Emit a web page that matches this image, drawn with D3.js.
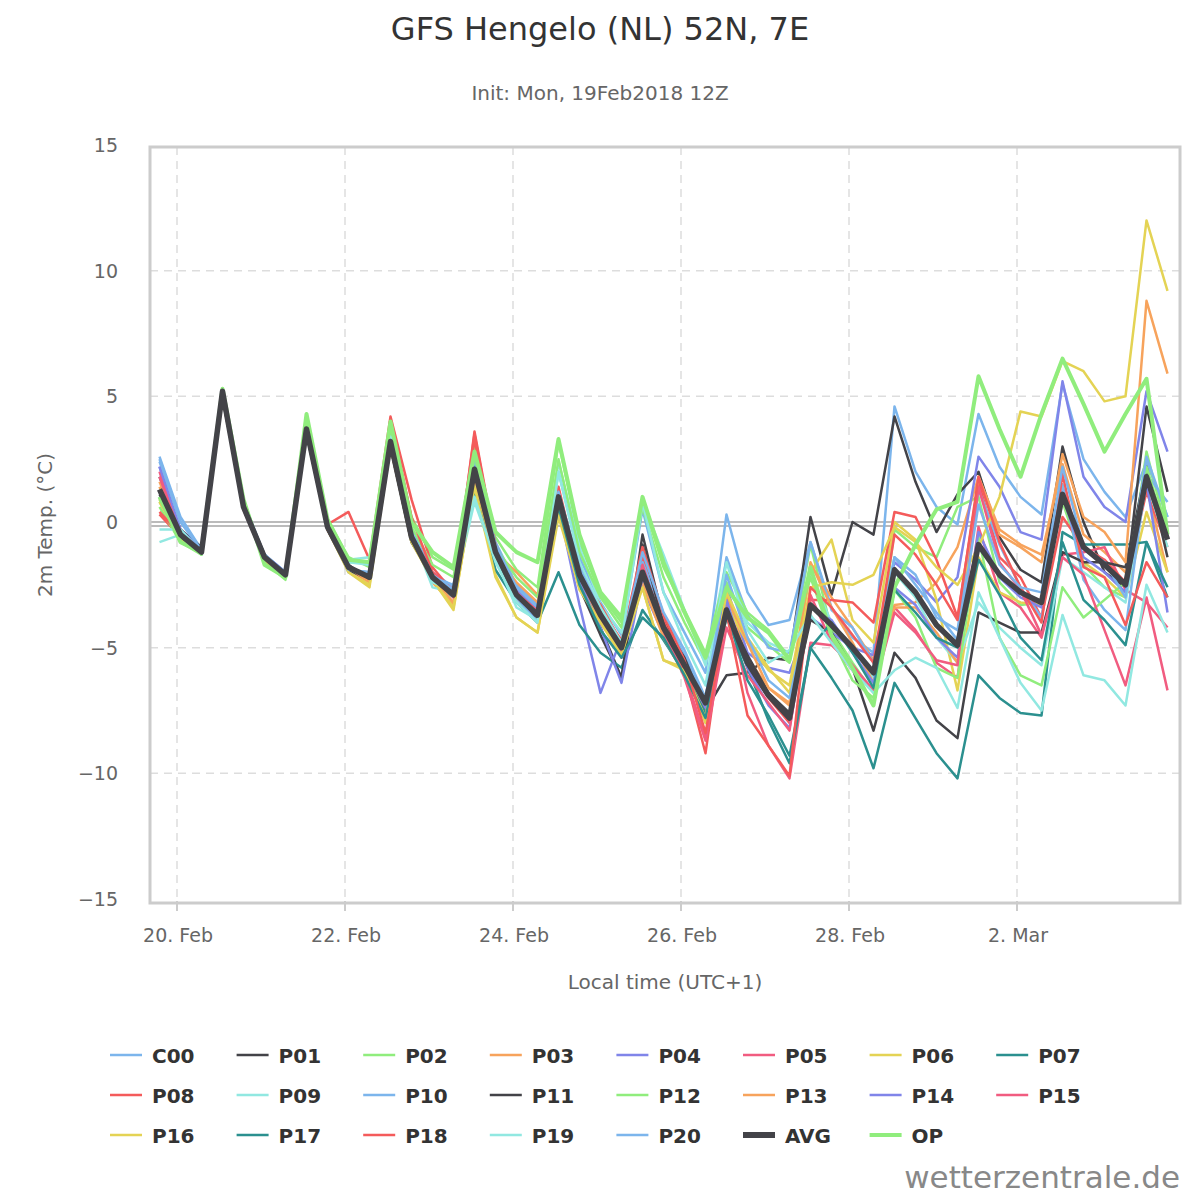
<!DOCTYPE html>
<html><head><meta charset="utf-8">
<script src="https://cdn.jsdelivr.net/npm/d3@7"></script>
<style>body{margin:0;background:#fff}svg{font-family:"DejaVu Sans",sans-serif}</style>
</head><body><svg id="c" width="1200" height="1200"></svg>
<script>
const names=["C00","P01","P02","P03","P04","P05","P06","P07","P08","P09","P10","P11","P12","P13","P14","P15","P16","P17","P18","P19","P20","AVG","OP"];
const colors=["#7cb5ec","#434348","#90ed7d","#f7a35c","#8085e9","#f15c80","#e4d354","#2b908f","#f45b5b","#91e8e1"];
const C00=[2.6,0.2,-1.1,5.1,0.8,-1.3,-2.0,3.8,0.0,-1.9,-2.0,3.5,-0.3,-2.0,-2.6,3.2,-0.8,-2.5,-3.3,2.0,-1.4,-3.2,-4.5,0.5,-2.8,-4.4,-6.0,0.3,-2.8,-4.1,-3.9,-0.8,-3.4,-4.6,-5.2,4.6,2.0,0.6,-0.1,4.3,2.2,1.0,0.3,5.5,2.5,1.2,0.2,2.4,0.2];
const P01=[1.8,-0.3,-1.0,4.9,0.7,-1.3,-2.1,3.5,-0.1,-1.7,-2.3,3.0,-0.8,-2.1,-2.8,1.8,-1.4,-3.0,-3.9,0.8,-2.6,-4.2,-6.2,-0.5,-3.9,-5.4,-7.5,-6.1,-6.0,-5.4,-5.5,0.2,-2.9,0.0,-0.5,4.2,1.6,-0.4,1.1,2.0,-0.6,-1.9,-2.4,3.0,0.0,-2.0,-2.6,4.6,1.2];
const P02=[0.8,-0.6,-1.3,5.3,0.9,-1.5,-2.1,4.2,0.1,-1.4,-1.8,3.9,0.2,-1.4,-1.9,3.0,-0.6,-1.9,-2.6,3.2,-0.8,-2.9,-4.0,0.6,-2.2,-4.0,-5.6,-2.4,-4.2,-4.9,-5.6,-0.9,-4.3,-5.6,-6.8,-0.3,-1.0,-1.4,0.6,1.0,-2.4,-3.3,-3.2,0.8,-1.7,-2.6,-3.0,2.8,-0.5];
const P03=[1.6,-0.4,-1.1,5.0,0.6,-1.4,-2.0,3.6,-0.2,-1.9,-2.4,3.1,-0.5,-2.4,-3.3,1.4,-1.2,-2.0,-2.9,0.6,-2.3,-3.5,-4.8,-2.2,-4.5,-5.8,-7.6,-2.8,-5.4,-6.6,-7.3,-1.7,-3.0,-4.2,-5.5,-3.3,-3.2,-2.4,-1.0,1.8,-0.3,-0.9,-1.3,2.3,-0.5,-1.2,-2.0,1.4,-2.0];
const P04=[2.2,-0.5,-1.2,5.1,0.6,-1.3,-2.1,3.6,-0.3,-1.8,-2.2,3.1,-0.6,-2.3,-3.0,2.0,-1.3,-3.0,-3.6,0.6,-3.3,-6.8,-4.6,-2.6,-4.5,-5.6,-7.0,-2.6,-5.2,-5.8,-6.0,-3.8,-4.4,-5.0,-5.3,-1.6,-2.3,-3.2,-2.2,2.6,1.4,-0.4,-0.7,5.6,1.8,0.6,0.0,5.2,2.8];
const P05=[2.0,-0.6,-1.2,5.0,0.5,-1.5,-2.2,3.6,-0.3,-1.9,-2.3,3.3,-0.5,-2.0,-2.7,3.5,-1.0,-2.7,-3.5,1.3,-2.3,-3.9,-5.4,-1.4,-4.4,-6.0,-8.6,-3.0,-6.8,-8.9,-10.2,-4.8,-4.9,-5.7,-6.7,-3.4,-4.3,-5.6,-6.2,-0.2,-2.8,-3.4,-4.6,-1.3,-1.2,-1.0,-2.7,-3.2,-4.2];
const P06=[0.9,-0.7,-1.2,5.2,0.7,-1.4,-2.1,3.9,-0.1,-2.0,-2.6,3.3,-0.6,-2.3,-3.5,1.6,-2.1,-3.8,-4.4,0.2,-2.6,-3.9,-4.9,-2.6,-5.5,-5.8,-8.0,-3.3,-4.8,-5.9,-6.5,-2.0,-0.7,-3.9,-4.8,0.0,-0.7,-3.1,-6.7,-1.4,-2.8,-3.2,-3.3,1.2,-1.6,-2.2,-3.0,0.4,-2.0];
const P07=[1.2,-0.7,-1.1,5.0,0.7,-1.4,-2.2,3.6,-0.2,-1.8,-2.2,3.1,-0.7,-2.3,-3.0,1.3,-1.9,-3.2,-4.0,-2.0,-4.1,-5.2,-5.8,-3.5,-4.7,-6.0,-7.6,-3.8,-5.8,-7.9,-9.6,-5.0,-6.2,-7.5,-9.8,-6.4,-7.8,-9.2,-10.2,-6.1,-7.0,-7.6,-7.7,-0.4,-0.9,-0.9,-0.9,-0.8,-3.0];
const P08=[0.3,-0.6,-1.2,5.0,0.6,-1.4,-2.0,3.7,-0.1,0.4,-1.5,4.2,0.9,-1.8,-2.8,3.6,-0.9,-2.7,-3.6,0.8,-2.3,-3.5,-4.7,-1.3,-3.9,-6.0,-9.2,-3.3,-5.7,-7.0,-8.0,-3.1,-3.1,-3.2,-4.0,0.4,0.2,-1.5,-3.8,1.6,-1.4,-2.2,-3.8,0.2,-1.0,-1.5,-2.4,1.2,-1.0];
const P09=[-0.8,-0.5,-1.3,5.1,0.6,-1.3,-2.0,3.8,0.0,-1.5,-1.4,3.6,-0.4,-2.6,-2.8,0.8,-1.5,-3.4,-3.9,2.4,-1.0,-3.3,-4.4,0.8,-1.3,-3.5,-5.7,-1.5,-4.0,-4.8,-5.2,-2.1,-4.0,-5.0,-6.2,-2.0,-3.0,-4.6,-5.6,-3.2,-4.2,-5.0,-5.7,-1.4,-2.0,-2.6,-3.2,1.6,-1.0];
const P10=[2.4,0.0,-1.1,5.2,0.7,-1.4,-2.1,3.7,-0.2,-2.0,-2.1,3.0,-0.7,-2.2,-2.5,2.5,-1.1,-3.0,-4.0,0.4,-2.4,-4.4,-5.2,-1.6,-3.7,-5.3,-7.1,-1.4,-3.7,-5.0,-5.2,-0.8,-3.5,-4.2,-5.6,-1.4,-2.1,-3.8,-4.3,1.3,-0.9,-2.6,-3.8,1.5,-2.3,-3.5,-4.3,1.9,0.8];
const P11=[1.1,-0.4,-1.2,5.1,0.6,-1.4,-2.2,3.5,-0.3,-1.9,-2.3,3.0,-0.8,-2.2,-2.9,2.0,-1.3,-2.8,-3.8,0.7,-2.6,-4.5,-6.2,-0.9,-4.1,-5.4,-7.4,-3.6,-5.3,-6.8,-7.6,-3.9,-4.4,-5.8,-8.3,-5.2,-6.2,-7.9,-8.6,-3.6,-4.0,-4.4,-4.4,-1.2,-1.6,-1.6,-1.8,2.2,-1.4];
const P12=[0.6,-0.8,-1.3,5.2,0.8,-1.6,-2.3,4.1,0.0,-1.6,-1.6,3.5,-0.2,-1.7,-2.2,2.6,-1.0,-2.2,-3.0,2.5,-1.2,-3.0,-4.2,0.9,-1.8,-3.5,-5.2,-2.0,-3.6,-4.3,-5.4,-2.2,-4.6,-6.3,-7.0,-2.7,-3.8,-5.8,-6.2,-0.6,-4.6,-6.1,-6.5,-2.6,-3.8,-3.1,-2.4,2.2,-0.6];
const P13=[1.4,-0.6,-1.2,5.0,0.5,-1.4,-2.1,3.6,-0.3,-1.8,-2.4,3.0,-0.7,-2.2,-3.2,1.8,-1.4,-2.4,-3.2,0.4,-2.2,-4.0,-5.2,-2.4,-4.6,-6.1,-7.8,-2.9,-4.8,-6.6,-7.2,-1.6,-3.4,-4.8,-6.4,-3.4,-3.4,-4.4,-5.6,1.8,-0.5,-1.0,-1.6,2.7,0.2,-0.4,-1.6,8.8,5.9];
const P14=[2.2,-0.3,-1.1,5.1,0.6,-1.3,-2.0,3.6,-0.2,-1.8,-2.2,3.1,-0.6,-2.2,-2.8,2.2,-1.1,-2.7,-3.4,0.8,-2.4,-4.2,-6.4,-2.2,-4.1,-5.7,-7.4,-3.1,-5.8,-7.3,-8.2,-3.4,-3.9,-5.2,-6.4,-2.6,-3.3,-4.6,-5.4,-0.4,-2.2,-3.0,-3.4,1.0,-1.4,-2.0,-2.8,1.6,-3.6];
const P15=[1.8,-0.5,-1.2,5.1,0.6,-1.4,-2.1,3.6,-0.3,-1.8,-2.2,3.0,-0.7,-2.3,-2.9,1.9,-1.2,-2.9,-3.7,0.9,-2.2,-3.8,-5.1,-1.7,-4.3,-6.2,-8.7,-4.2,-6.1,-7.2,-8.3,-2.9,-4.8,-5.9,-6.7,-3.6,-4.4,-5.5,-5.7,1.4,-1.6,-2.7,-4.5,-1.4,-2.1,-4.3,-6.5,-3.0,-6.7];
const P16=[0.8,-0.7,-1.2,5.1,0.6,-1.5,-2.2,3.8,-0.3,-2.0,-2.5,3.0,-0.8,-2.3,-3.4,1.4,-2.2,-3.8,-4.4,0.4,-2.7,-4.0,-5.3,-2.6,-5.5,-5.9,-7.8,-2.8,-4.6,-5.8,-6.8,-2.6,-2.4,-2.5,-2.1,-0.2,-0.8,-1.8,-2.5,-1.0,1.0,4.4,4.2,6.4,6.0,4.8,5.0,12.0,9.2];
const P17=[1.0,-0.6,-1.2,5.0,0.6,-1.4,-2.1,3.6,-0.2,-1.8,-2.2,3.1,-0.6,-2.2,-2.9,2.0,-1.3,-2.9,-3.6,0.6,-2.5,-4.3,-5.4,-3.8,-4.6,-6.1,-7.8,-3.6,-6.3,-7.7,-9.3,-5.0,-4.0,-5.2,-6.6,-2.7,-3.6,-4.6,-5.0,-1.5,-2.9,-4.6,-5.5,-0.8,-3.1,-3.9,-4.9,-0.8,-2.6];
const P18=[0.4,-0.5,-1.2,5.0,0.6,-1.4,-2.1,3.7,-0.2,-1.8,-2.2,4.1,0.2,-2.0,-3.0,3.3,-1.0,-2.8,-3.7,1.4,-2.1,-3.3,-4.8,-1.0,-3.7,-5.5,-8.4,-3.6,-7.7,-8.9,-10.1,-2.6,-3.4,-4.5,-5.6,-0.5,-1.3,-2.5,-3.9,1.8,-0.8,-2.6,-4.0,1.9,-1.8,-2.2,-4.1,-1.6,-3.0];
const P19=[-0.3,-0.3,-1.2,5.1,0.6,-1.3,-2.1,3.7,-0.2,-1.6,-1.7,3.4,-0.5,-2.4,-2.7,1.0,-1.6,-3.2,-4.0,2.0,-1.6,-3.4,-4.8,0.8,-2.8,-4.8,-6.5,-1.6,-4.3,-5.6,-5.1,-3.7,-4.8,-5.9,-6.8,-5.9,-5.4,-5.8,-7.4,-2.8,-4.6,-6.4,-7.5,-3.7,-6.1,-6.3,-7.3,-2.5,-4.4];
const P20=[2.5,0.0,-1.1,5.1,0.7,-1.4,-2.0,3.7,-0.1,-1.9,-2.0,3.2,-0.4,-2.1,-2.7,2.7,-0.9,-2.6,-3.4,1.2,-1.8,-3.6,-4.9,-1.2,-3.6,-5.1,-7.0,-2.1,-4.6,-6.3,-7.0,-3.3,-4.1,-5.0,-6.0,-1.4,-2.5,-3.6,-4.7,0.7,-1.7,-2.6,-2.8,2.2,-1.0,-1.6,-3.0,2.6,0.2];
const AVG=[1.3,-0.5,-1.2,5.2,0.6,-1.4,-2.1,3.7,-0.2,-1.8,-2.2,3.2,-0.6,-2.2,-2.9,2.1,-1.2,-2.9,-3.7,1.0,-2.1,-3.7,-5.0,-2.0,-4.2,-5.7,-7.2,-3.5,-5.6,-6.9,-7.8,-3.3,-4.1,-5.0,-6.0,-1.9,-2.8,-4.1,-4.9,-0.9,-2.1,-2.8,-3.2,1.1,-1.0,-1.7,-2.5,1.8,-0.7];
const OP=[1.0,-0.8,-1.2,5.3,0.9,-1.7,-2.2,4.3,0.1,-1.5,-1.6,4.0,0.0,-1.2,-1.8,2.8,-0.4,-1.2,-1.6,3.3,-0.5,-2.8,-3.8,1.0,-1.6,-3.6,-5.4,-2.6,-3.8,-4.4,-5.5,-1.8,-4.5,-5.8,-7.3,-2.6,-0.9,0.5,0.8,5.8,3.7,1.8,4.3,6.5,4.7,2.8,4.3,5.7,-0.5];
const yTicks=[-15,-10,-5,0,5,10,15];
const series=[C00,P01,P02,P03,P04,P05,P06,P07,P08,P09,P10,P11,P12,P13,P14,P15,P16,P17,P18,P19,P20,AVG,OP];

const svg=d3.select("#c");
const DAY=864e5, H=36e5;
const t0=Date.UTC(2018,1,20);
const L=150,R=1180,T=147,B=901;
const x=d3.scaleUtc().domain([t0-27/84*DAY,t0+(R-177)/84*DAY]).range([L,R]);
const y=d3.scaleLinear().domain([-15,15]).range([899,145]);
const start=Date.UTC(2018,1,19,19);
const times=AVG.map((_,i)=>start+i*6*H);
const xTicks=d3.range(0,6).map(k=>t0+2*k*DAY);
const mon=["Jan","Feb","Mar"];
svg.append("g").selectAll("line").data(yTicks.filter(v=>v!==0&&v!==-15&&v!==15)).join("line")
 .attr("x1",L).attr("x2",R).attr("y1",d=>y(d)).attr("y2",d=>y(d)).attr("stroke","#ddd").attr("stroke-dasharray","8,6").attr("stroke-width",1.5);
svg.append("g").selectAll("line").data(xTicks).join("line")
 .attr("x1",d=>x(d)).attr("x2",d=>x(d)).attr("y1",T).attr("y2",B).attr("stroke","#ddd").attr("stroke-dasharray","8,6").attr("stroke-width",1.5);
svg.append("line").attr("x1",L).attr("x2",R).attr("y1",y(0)).attr("y2",y(0)).attr("stroke","#bbb").attr("stroke-width",2);
svg.append("line").attr("x1",L).attr("x2",R).attr("y1",y(0)+4).attr("y2",y(0)+4).attr("stroke","#bbb").attr("stroke-width",2);
svg.append("g").selectAll("text").data(yTicks).join("text").attr("x",118).attr("y",d=>y(d)+7).attr("text-anchor","end")
 .attr("font-size",19).attr("fill","#666").text(d=>d<0?"−"+Math.abs(d):d);
svg.append("g").selectAll("text").data(xTicks).join("text").attr("x",d=>x(d)+1).attr("y",942).attr("text-anchor","middle")
 .attr("font-size",19).attr("fill","#666").text(d=>{const dt=new Date(d);return dt.getUTCDate()+". "+mon[dt.getUTCMonth()];});
svg.append("g").selectAll("line").data(xTicks).join("line").attr("x1",d=>x(d)).attr("x2",d=>x(d)).attr("y1",B).attr("y2",B+10).attr("stroke","#ccc").attr("stroke-width",2);
const line=d3.line().x((d,i)=>x(times[i])).y(d=>y(d));
const plot=svg.append("g");
series.forEach((s,k)=>{
 if(k>=21)return;
 plot.append("path").attr("d",line(s)).attr("fill","none").attr("stroke",colors[k%10]).attr("stroke-width",2.5).attr("stroke-linejoin","round");
});
plot.append("path").attr("d",line(OP)).attr("fill","none").attr("stroke","#90ed7d").attr("stroke-width",4).attr("stroke-linejoin","round");
plot.append("path").attr("d",line(AVG)).attr("fill","none").attr("stroke","#434348").attr("stroke-width",5.5).attr("stroke-linejoin","round");
svg.append("rect").attr("x",L).attr("y",T).attr("width",R-L).attr("height",B+2-T).attr("fill","none").attr("stroke","#ccc").attr("stroke-width",3);
svg.append("text").attr("x",600).attr("y",40).attr("text-anchor","middle").attr("font-size",32).attr("fill","#333").text("GFS Hengelo (NL) 52N, 7E");
svg.append("text").attr("x",600).attr("y",100).attr("text-anchor","middle").attr("font-size",20).attr("fill","#666").text("Init: Mon, 19Feb2018 12Z");
svg.append("text").attr("transform","translate(52,525) rotate(-90)").attr("text-anchor","middle").attr("font-size",20).attr("fill","#666").text("2m Temp. (°C)");
svg.append("text").attr("x",665).attr("y",989).attr("text-anchor","middle").attr("font-size",20).attr("fill","#666").text("Local time (UTC+1)");
names.forEach((n,k)=>{
 const cx=110+(k%8)*126.6, cy=1055+Math.floor(k/8)*40;
 const col=n==="AVG"?"#434348":n==="OP"?"#90ed7d":colors[k%10];
 svg.append("line").attr("x1",cx).attr("x2",cx+32).attr("y1",cy).attr("y2",cy).attr("stroke",col).attr("stroke-width",n==="AVG"?6:n==="OP"?4:2.5);
 svg.append("text").attr("x",cx+42).attr("y",cy+8).attr("font-size",20).attr("font-weight","bold").attr("fill","#333").text(n);
});
svg.append("text").attr("x",1180).attr("y",1188).attr("text-anchor","end").attr("font-size",31).attr("fill","#888").text("wetterzentrale.de");
</script></body></html>
